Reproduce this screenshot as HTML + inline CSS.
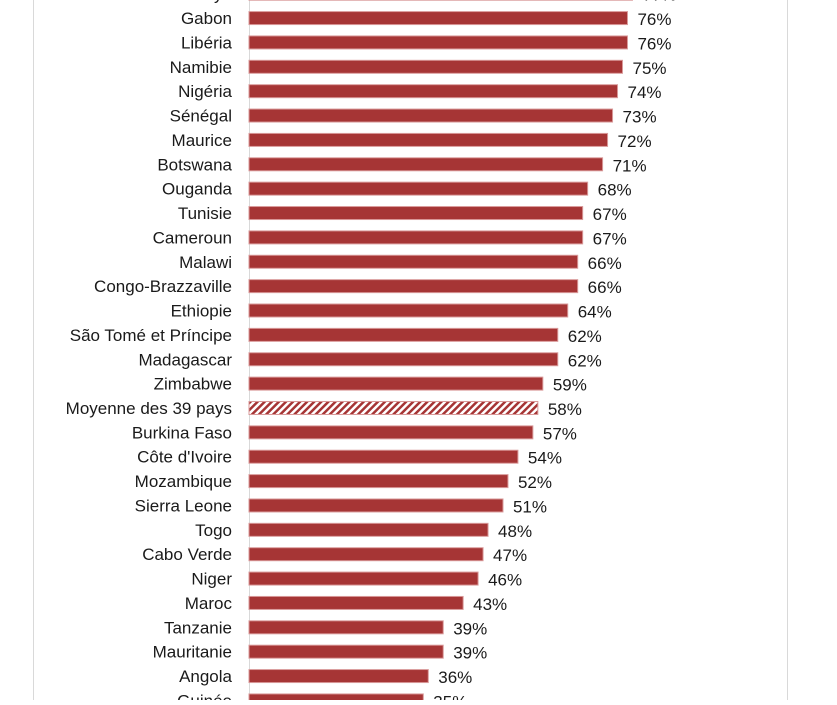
<!DOCTYPE html>
<html><head><meta charset="utf-8"><style>
body{margin:0;background:#fff;width:837px;height:700px;overflow:hidden;font-family:"Liberation Sans",sans-serif}
</style></head><body>
<svg width="837" height="700">
<defs>
<pattern id="hatch" width="5" height="5" patternUnits="userSpaceOnUse" patternTransform="rotate(45)">
<rect width="5" height="5" fill="#fff"/><rect width="2.5" height="5" fill="#a63535"/>
</pattern>
</defs>
<line x1="33.5" y1="0" x2="33.5" y2="700" stroke="#d9d9d9"/>
<line x1="787.5" y1="0" x2="787.5" y2="700" stroke="#d9d9d9"/>
<line x1="249.5" y1="0" x2="249.5" y2="700" stroke="#d9d9d9"/>
<g id="bars"></g>
</svg>
<script>
const countries=["Kenya","Gabon","Libéria","Namibie","Nigéria","Sénégal","Maurice","Botswana","Ouganda","Tunisie","Cameroun","Malawi","Congo-Brazzaville","Ethiopie","São Tomé et Príncipe","Madagascar","Zimbabwe","Moyenne des 39 pays","Burkina Faso","Côte d'Ivoire","Mozambique","Sierra Leone","Togo","Cabo Verde","Niger","Maroc","Tanzanie","Mauritanie","Angola","Guinée"];
const values=[77,76,76,75,74,73,72,71,68,67,67,66,66,64,62,62,59,58,57,54,52,51,48,47,46,43,39,39,36,35];
const x0=249,scale=4.98,y0=-6.3,step=24.37,bh=13;
const xs=v=>x0+v*scale, ys=i=>y0+i*step;
const g=document.getElementById('bars');
const ns="http://www.w3.org/2000/svg";
countries.forEach((c,i)=>{
  const y=ys(i);
  const r=document.createElementNS(ns,'rect');
  r.setAttribute('x',x0);r.setAttribute('y',y-bh/2);
  r.setAttribute('width',xs(values[i])-x0);r.setAttribute('height',bh);
  const avg=c.startsWith('Moyenne');
  r.setAttribute('fill',avg?'url(#hatch)':'#a63535');
  r.setAttribute('stroke','#d99a9a');r.setAttribute('stroke-width','1');
  
  
  g.appendChild(r);
  const t=document.createElementNS(ns,'text');
  t.setAttribute('x',232);t.setAttribute('y',y+6);t.setAttribute('text-anchor','end');
  t.setAttribute('font-size','17');t.setAttribute('fill','#1a1a1a');
  t.textContent=c;
  
  
  g.appendChild(t);
  const v=document.createElementNS(ns,'text');
  v.setAttribute('x',xs(values[i])+10);v.setAttribute('y',y+7);
  v.setAttribute('font-size','17');v.setAttribute('fill','#1a1a1a');
  v.textContent=values[i]+'%';
  
  
  g.appendChild(v);
});
</script>
</body></html>
